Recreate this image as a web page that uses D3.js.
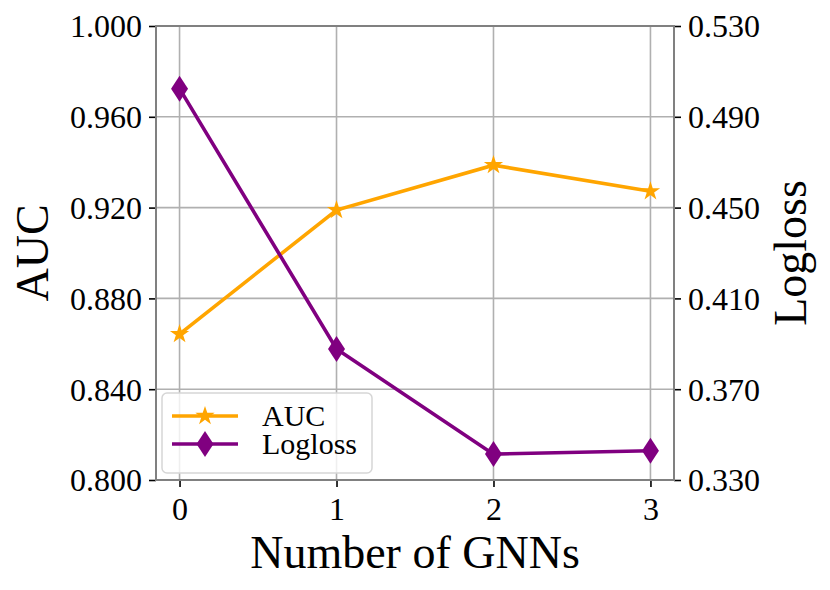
<!DOCTYPE html>
<html>
<head>
<meta charset="utf-8">
<script src="https://cdn.jsdelivr.net/npm/d3@7"></script>
<style>
  body { margin: 0; background: #fff; }
  svg text { font-family: "Liberation Serif", "Times New Roman", serif; fill: #000; }
</style>
</head>
<body>
<svg class="chart"></svg>
<script>
// data
var gnnCounts = [0, 1, 2, 3];
var aucValues = [0.8643, 0.9189, 0.9387, 0.9272];
var loglossValues = [0.5024, 0.3877, 0.3414, 0.3429];
var aucTicks = [0.800, 0.840, 0.880, 0.920, 0.960, 1.000];
var loglossTicks = [0.330, 0.370, 0.410, 0.450, 0.490, 0.530];
var xTickValues = [0, 1, 2, 3];

// chart
var width = 830;
var height = 590;
var plot = { left: 156, right: 674, top: 26, bottom: 480 };

var svg = d3.select('.chart')
    .attr('width', width)
    .attr('height', height);

var x = d3.scaleLinear()
    .domain([-0.15, 3.15])
    .range([plot.left, plot.right]);

var yAuc = d3.scaleLinear()
    .domain([0.8, 1.0])
    .range([plot.bottom, plot.top]);

var yLog = d3.scaleLinear()
    .domain([0.33, 0.53])
    .range([plot.bottom, plot.top]);

var orange = '#ffa500';
var purple = '#800080';

// grid
var grid = svg.append('g');
grid.selectAll('.vgrid')
    .data(xTickValues)
  .enter().append('line')
    .attr('x1', function(d){ return x(d); })
    .attr('x2', function(d){ return x(d); })
    .attr('y1', plot.top)
    .attr('y2', plot.bottom)
    .attr('stroke', '#b0b0b0')
    .attr('stroke-width', 1.6);
grid.selectAll('.hgrid')
    .data(aucTicks)
  .enter().append('line')
    .attr('x1', plot.left)
    .attr('x2', plot.right)
    .attr('y1', function(d){ return yAuc(d); })
    .attr('y2', function(d){ return yAuc(d); })
    .attr('stroke', '#b0b0b0')
    .attr('stroke-width', 1.6);

// axes
function styleAxis(g) {
  g.select('.domain').remove();
  g.selectAll('.tick line').attr('stroke', '#000').attr('stroke-width', 1.6);
  g.selectAll('.tick text').style('font-size', '32px');
}

svg.append('g')
    .attr('transform', 'translate(0,' + plot.bottom + ')')
    .call(d3.axisBottom(x).tickValues(xTickValues).tickSize(7).tickPadding(6).tickFormat(d3.format('d')))
    .call(styleAxis)
    .selectAll('.tick text').attr('dy', '0.85em');

svg.append('g')
    .attr('transform', 'translate(' + plot.left + ',0)')
    .call(d3.axisLeft(yAuc).tickValues(aucTicks).tickSize(7).tickPadding(7).tickFormat(d3.format('.3f')))
    .call(styleAxis)
    .selectAll('.tick text').attr('dy', '0.34em');

svg.append('g')
    .attr('transform', 'translate(' + plot.right + ',0)')
    .call(d3.axisRight(yLog).tickValues(loglossTicks).tickSize(7).tickPadding(7).tickFormat(d3.format('.3f')))
    .call(styleAxis)
    .selectAll('.tick text').attr('dy', '0.34em');

// frame
svg.append('rect')
    .attr('x', plot.left)
    .attr('y', plot.top)
    .attr('width', plot.right - plot.left)
    .attr('height', plot.bottom - plot.top)
    .attr('fill', 'none')
    .attr('stroke', '#808080')
    .attr('stroke-width', 2);

// markers
var starPath = d3.symbol().type(d3.symbolStar).size(115);
function diamondPath(w, h) {
  return 'M0,' + (-h/2) + 'L' + (w/2) + ',0L0,' + (h/2) + 'L' + (-w/2) + ',0Z';
}

// AUC line
var aucLine = d3.line()
    .x(function(d, i){ return x(gnnCounts[i]); })
    .y(function(d){ return yAuc(d); });

svg.append('path')
    .datum(aucValues)
    .attr('d', aucLine)
    .attr('fill', 'none')
    .attr('stroke', orange)
    .attr('stroke-width', 3.6);

svg.selectAll('.aucPoint')
    .data(aucValues)
  .enter().append('path')
    .attr('transform', function(d, i){ return 'translate(' + x(gnnCounts[i]) + ',' + yAuc(d) + ')'; })
    .attr('d', starPath)
    .attr('fill', orange);

// Logloss line
var logLine = d3.line()
    .x(function(d, i){ return x(gnnCounts[i]); })
    .y(function(d){ return yLog(d); });

svg.append('path')
    .datum(loglossValues)
    .attr('d', logLine)
    .attr('fill', 'none')
    .attr('stroke', purple)
    .attr('stroke-width', 3.6);

svg.selectAll('.logPoint')
    .data(loglossValues)
  .enter().append('path')
    .attr('transform', function(d, i){ return 'translate(' + x(gnnCounts[i]) + ',' + yLog(d) + ')'; })
    .attr('d', diamondPath(17, 26))
    .attr('fill', purple);

// axis labels
svg.append('text')
    .attr('x', (plot.left + plot.right) / 2)
    .attr('y', 568)
    .attr('text-anchor', 'middle')
    .style('font-size', '46px')
    .text('Number of GNNs');

svg.append('text')
    .attr('transform', 'translate(48,' + ((plot.top + plot.bottom) / 2) + ') rotate(-90)')
    .attr('text-anchor', 'middle')
    .style('font-size', '46px')
    .text('AUC');

svg.append('text')
    .attr('transform', 'translate(806,' + ((plot.top + plot.bottom) / 2) + ') rotate(-90)')
    .attr('text-anchor', 'middle')
    .style('font-size', '46px')
    .text('Logloss');

// legend
var legend = svg.append('g');
legend.append('rect')
    .attr('x', 162)
    .attr('y', 393)
    .attr('width', 210)
    .attr('height', 80)
    .attr('rx', 5)
    .attr('fill', '#fff')
    .attr('fill-opacity', 0.8)
    .attr('stroke', '#d6d6d6')
    .attr('stroke-width', 1.5);

var legendItems = [
  { name: 'AUC', color: orange, y: 416, marker: starPath() },
  { name: 'Logloss', color: purple, y: 444, marker: diamondPath(17, 26) }
];

legendItems.forEach(function(item) {
  legend.append('line')
      .attr('x1', 172).attr('x2', 238)
      .attr('y1', item.y).attr('y2', item.y)
      .attr('stroke', item.color)
      .attr('stroke-width', 3.6);
  legend.append('path')
      .attr('transform', 'translate(205,' + item.y + ')')
      .attr('d', item.marker)
      .attr('fill', item.color);
  legend.append('text')
      .attr('x', 262)
      .attr('y', item.y)
      .attr('dy', '0.33em')
      .style('font-size', '30px')
      .text(item.name);
});
</script>
</body>
</html>
